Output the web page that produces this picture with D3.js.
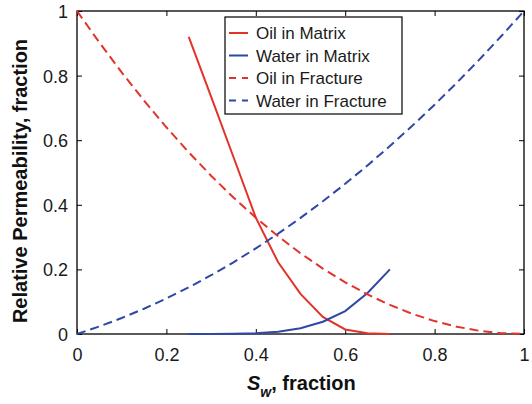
<!DOCTYPE html>
<html>
<head>
<meta charset="utf-8">
<script src="https://cdn.jsdelivr.net/npm/d3@7"></script>
<style>
  html, body { margin: 0; padding: 0; background: #fff; }
  svg { display: block; font-family: "Liberation Sans", Arial, Helvetica, sans-serif; }
</style>
</head>
<body>
<svg id="chart" width="532" height="404"></svg>
<script>
// Water saturation grid for the fracture curves
const swFracture = [0, 0.05, 0.1, 0.15, 0.2, 0.25, 0.3, 0.35, 0.4, 0.45, 0.5,
                    0.55, 0.6, 0.65, 0.7, 0.75, 0.8, 0.85, 0.9, 0.95, 1];
const oilFracture = [1, 0.9025, 0.81, 0.7225, 0.64, 0.5625, 0.49, 0.4225, 0.36, 0.3025, 0.25,
                     0.2025, 0.16, 0.1225, 0.09, 0.0625, 0.04, 0.0225, 0.01, 0.0025, 0];
const waterFracture = [0, 0.0233, 0.0494, 0.0783, 0.11, 0.1445, 0.1819, 0.222, 0.265, 0.3108, 0.3594,
                       0.4108, 0.465, 0.522, 0.5819, 0.6445, 0.71, 0.7783, 0.8494, 0.9233, 1];

// Water saturation grid for the matrix curves
const swMatrix = [0.25, 0.3, 0.35, 0.4, 0.45, 0.5, 0.55, 0.6, 0.65, 0.7];
const oilMatrix = [0.92, 0.735, 0.548, 0.36, 0.222, 0.124, 0.053, 0.014, 0.002, 0];
const waterMatrix = [0, 0, 0.0005, 0.002, 0.007, 0.018, 0.038, 0.071, 0.127, 0.2];

const seriesNames = ["Oil in Matrix", "Water in Matrix", "Oil in Fracture", "Water in Fracture"];
const xTicks = [0, 0.2, 0.4, 0.6, 0.8, 1];
const yTicks = [0, 0.2, 0.4, 0.6, 0.8, 1];
const xTickLabels = ["0", "0.2", "0.4", "0.6", "0.8", "1"];
const yTickLabels = ["0", "0.2", "0.4", "0.6", "0.8", "1"];

const RED = "#e2332b";
const BLUE = "#2f47a6";

const svg = d3.select("#chart");
const margin = { left: 77, right: 8, top: 11, bottom: 70 };
const W = 532, H = 404;
const x = d3.scaleLinear().domain([0, 1]).range([margin.left, W - margin.right]);
const y = d3.scaleLinear().domain([0, 1]).range([H - margin.bottom, margin.top]);

const series = [
  { name: seriesNames[0], xs: swMatrix, ys: oilMatrix, color: RED, dashed: false },
  { name: seriesNames[1], xs: swMatrix, ys: waterMatrix, color: BLUE, dashed: false },
  { name: seriesNames[2], xs: swFracture, ys: oilFracture, color: RED, dashed: true },
  { name: seriesNames[3], xs: swFracture, ys: waterFracture, color: BLUE, dashed: true }
];

// Axes: ticks point inwards on all four sides
const tickLen = 5;
const fmtX = (d, i) => xTickLabels[i];
const fmtY = (d, i) => yTickLabels[i];

const gx = svg.append("g").attr("transform", `translate(0,${y(0)})`)
  .call(d3.axisBottom(x).tickValues(xTicks).tickFormat(fmtX).tickSizeInner(-tickLen).tickSizeOuter(0).tickPadding(14));
const gxTop = svg.append("g").attr("transform", `translate(0,${y(1)})`)
  .call(d3.axisTop(x).tickValues(xTicks).tickFormat("").tickSizeInner(-tickLen).tickSizeOuter(0));
const gy = svg.append("g").attr("transform", `translate(${x(0)},0)`)
  .call(d3.axisLeft(y).tickValues(yTicks).tickFormat(fmtY).tickSizeInner(-tickLen).tickSizeOuter(0).tickPadding(9));
const gyRight = svg.append("g").attr("transform", `translate(${x(1)},0)`)
  .call(d3.axisRight(y).tickValues(yTicks).tickFormat("").tickSizeInner(-tickLen).tickSizeOuter(0));

[gx, gxTop, gy, gyRight].forEach(g => {
  g.select(".domain").remove();
  g.selectAll(".tick line").attr("stroke", "#000").attr("stroke-width", 1);
  g.selectAll(".tick text").attr("font-size", 18).attr("fill", "#1a1a1a")
    .attr("font-family", "'Liberation Sans', Arial, sans-serif");
});
gy.selectAll(".tick text").attr("dy", "0.36em");

// Plot frame
svg.append("rect")
  .attr("x", x(0)).attr("y", y(1))
  .attr("width", x(1) - x(0)).attr("height", y(0) - y(1))
  .attr("fill", "none").attr("stroke", "#000").attr("stroke-width", 1.3);

// Curves
const line = d3.line().x(d => x(d[0])).y(d => y(d[1]));
series.forEach(s => {
  svg.append("path")
    .datum(s.xs.map((v, i) => [v, s.ys[i]]))
    .attr("d", line)
    .attr("fill", "none")
    .attr("stroke", s.color)
    .attr("stroke-width", 2)
    .attr("stroke-dasharray", s.dashed ? "9,5" : null);
});

// Legend
const lg = svg.append("g").attr("transform", "translate(225,17)");
lg.append("rect").attr("width", 177).attr("height", 97)
  .attr("fill", "#fff").attr("stroke", "#000").attr("stroke-width", 1.2);
series.forEach((s, i) => {
  const cy = 16 + i * 22.5;
  lg.append("line").attr("x1", 4).attr("x2", 23).attr("y1", cy).attr("y2", cy)
    .attr("stroke", s.color).attr("stroke-width", 2)
    .attr("stroke-dasharray", s.dashed ? "7,6" : null);
  lg.append("text").attr("x", 31).attr("y", cy).attr("dy", "0.36em")
    .attr("font-size", 17).attr("fill", "#1a1a1a").text(s.name);
});

// Axis titles
svg.append("text")
  .attr("transform", `translate(27,181) rotate(-90)`)
  .attr("text-anchor", "middle")
  .attr("font-size", 20).attr("font-weight", "bold").attr("fill", "#111")
  .text("Relative Permeability, fraction");

const xt = svg.append("text")
  .attr("x", 247).attr("y", 389.5)
  .attr("font-size", 20).attr("font-weight", "bold").attr("fill", "#111");
xt.append("tspan").attr("font-style", "italic").text("S");
xt.append("tspan").attr("font-style", "italic").attr("font-size", 14).attr("dy", 7).text("w");
xt.append("tspan").attr("dy", -7).text(", fraction");
</script>
</body>
</html>
